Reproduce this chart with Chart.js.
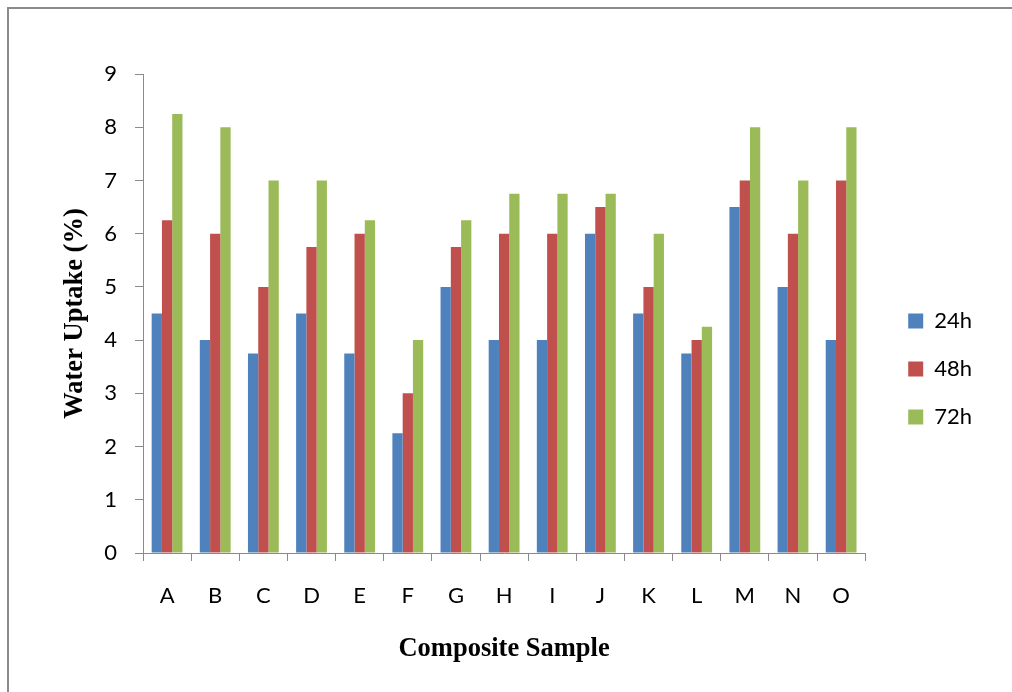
<!DOCTYPE html>
<html>
<head>
<meta charset="utf-8">
<script src="https://cdn.jsdelivr.net/npm/chart.js@4/dist/chart.umd.min.js"></script>
<style>
  body { margin: 0; background: #fff; overflow: hidden; }
  #frame { position: absolute; left: 7px; top: 7px; width: 1100px; height: 800px; border: 2px solid #8b8b8b; }
  #myChart { position: absolute; left: 0; top: 0; }
</style>
</head>
<body>
<div id="frame"></div>
<canvas id="myChart" width="1012" height="692"></canvas>
<script>
// Data
const samples = ['A', 'B', 'C', 'D', 'E', 'F', 'G', 'H', 'I', 'J', 'K', 'L', 'M', 'N', 'O'];
const uptake24h = [4.5, 4, 3.75, 4.5, 3.75, 2.25, 5, 4, 4, 6, 4.5, 3.75, 6.5, 5, 4];
const uptake48h = [6.25, 6, 5, 5.75, 6, 3, 5.75, 6, 6, 6.5, 5, 4, 7, 6, 7];
const uptake72h = [8.25, 8, 7, 7, 6.25, 4, 6.25, 6.75, 6.75, 6.75, 6, 4.25, 8, 7, 8];
const yTicks = [0, 1, 2, 3, 4, 5, 6, 7, 8, 9];

const axisColor = '#8a8a8a';
const tickFont = { family: 'Lato', size: 22 };
const titleFont = { family: 'Liberation Serif', size: 26.5, weight: 'bold' };

const ctx = document.getElementById('myChart').getContext('2d');
new Chart(ctx, {
  type: 'bar',
  data: {
    labels: samples,
    datasets: [
      { label: '24h', data: uptake24h, backgroundColor: '#4F81BD' },
      { label: '48h', data: uptake48h, backgroundColor: '#C0504D' },
      { label: '72h', data: uptake72h, backgroundColor: '#9BBB59' }
    ]
  },
  options: {
    responsive: false,
    animation: false,
    layout: { padding: { left: 0, top: 74, right: 30, bottom: 28 } },
    datasets: { bar: { categoryPercentage: 0.64, barPercentage: 1 } },
    scales: {
      x: {
        grid: { drawOnChartArea: false, color: axisColor, tickLength: 8, offset: true },
        border: { color: axisColor },
        ticks: { color: '#000', font: tickFont, padding: 22, maxRotation: 0 },
        title: { display: true, text: 'Composite Sample', color: '#000', font: titleFont, padding: { bottom: -1 } },
        afterFit: scale => { scale.height = 111; }
      },
      y: {
        min: 0,
        max: 9,
        afterBuildTicks: scale => { scale.ticks = yTicks.map(v => ({ value: v })); },
        grid: { drawOnChartArea: false, color: axisColor, tickLength: 8 },
        border: { color: axisColor },
        ticks: { color: '#000', font: tickFont, padding: 18 },
        title: { display: true, text: 'Water Uptake (%)', color: '#000', font: titleFont, padding: { top: 59 } },
        afterFit: scale => { scale.width = 143; }
      },
      // empty spacer between the plot and the legend
      gap: {
        type: 'linear',
        position: 'right',
        grid: { display: false },
        border: { display: false },
        ticks: { display: false },
        afterFit: scale => { scale.width = 17; }
      }
    },
    plugins: {
      legend: {
        position: 'right',
        labels: {
          color: '#000',
          font: tickFont,
          boxWidth: 15,
          boxHeight: 15,
          padding: 26
        }
      },
      tooltip: { enabled: false }
    }
  }
});
</script>
</body>
</html>
